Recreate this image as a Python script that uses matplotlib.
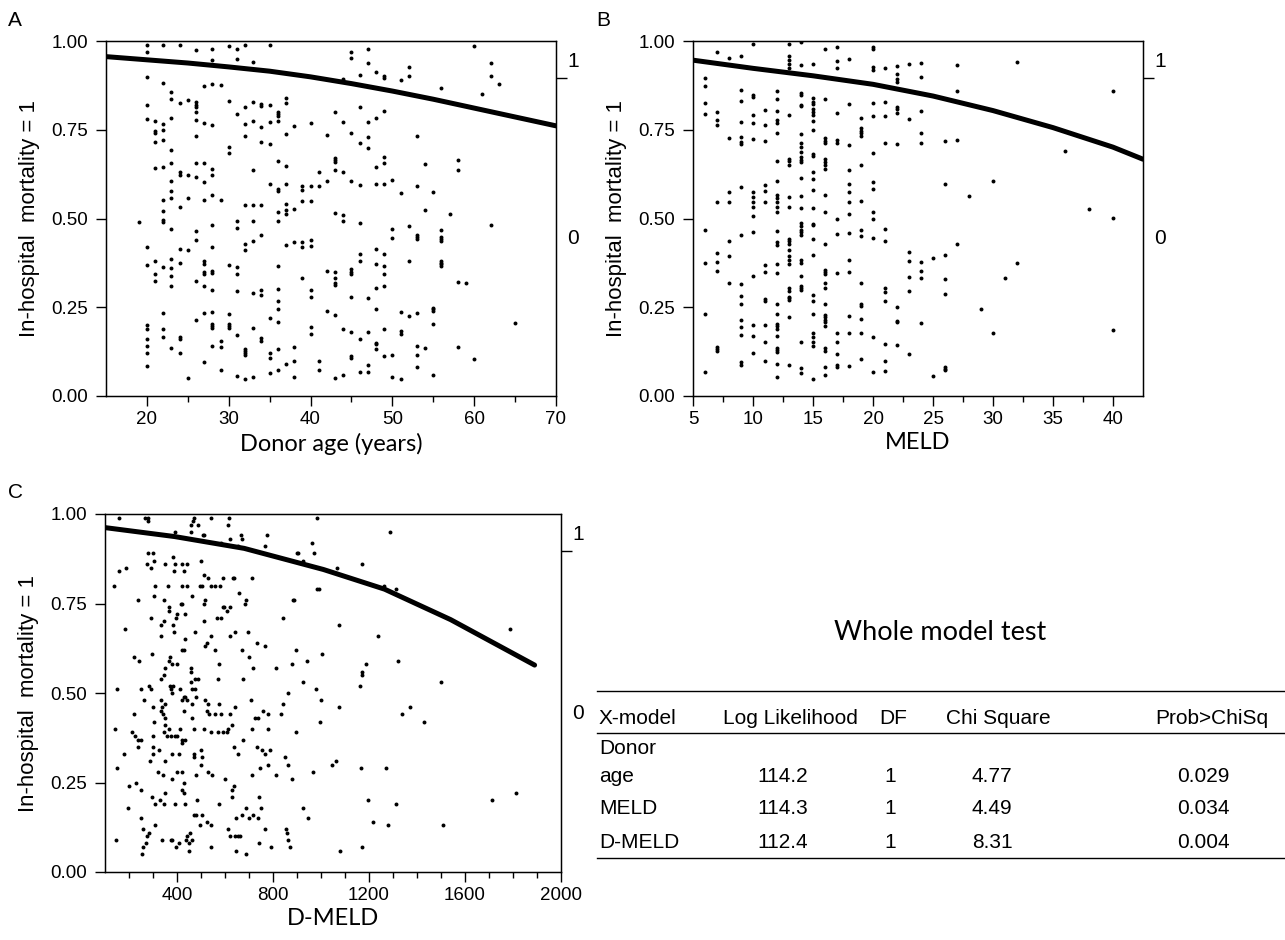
import numpy as np
import matplotlib.pyplot as plt
from matplotlib.lines import Line2D

plt.rcParams['font.family'] = ['Liberation Sans', 'DejaVu Sans']

# ---- Panel A: donor age (integer ages, jittered y positions)
age_levels = [19, 20, 21, 22, 23, 24, 25, 26, 27, 28, 29, 30, 31, 32, 33, 34, 35, 36, 37, 38, 39, 40,
              41, 42, 43, 44, 45, 46, 47, 48, 49, 50, 51, 52, 53, 54, 55, 56, 57, 58, 59, 60, 61, 62, 63, 65]
age_y = [
    [0.49],
    [0.99, 0.97, 0.90, 0.82, 0.78, 0.42, 0.37, 0.20, 0.19, 0.16, 0.14, 0.12, 0.085],
    [0.775, 0.747, 0.742, 0.715, 0.642, 0.381, 0.343, 0.324],
    [0.99, 0.883, 0.766, 0.748, 0.722, 0.645, 0.553, 0.521, 0.495, 0.491, 0.362, 0.235, 0.189, 0.165],
    [0.855, 0.837, 0.784, 0.692, 0.656, 0.605, 0.577, 0.557, 0.471, 0.386, 0.361, 0.337, 0.311, 0.136],
    [0.99, 0.825, 0.632, 0.623, 0.531, 0.415, 0.376, 0.167, 0.161, 0.122],
    [0.833, 0.622, 0.559, 0.411, 0.052],
    [0.974, 0.827, 0.820, 0.813, 0.800, 0.778, 0.733, 0.655, 0.616, 0.464, 0.439, 0.324, 0.214],
    [0.873, 0.770, 0.655, 0.604, 0.553, 0.381, 0.373, 0.349, 0.344, 0.311, 0.233, 0.096],
    [0.978, 0.947, 0.878, 0.763, 0.640, 0.623, 0.566, 0.483, 0.421, 0.352, 0.346, 0.300, 0.238,
     0.202, 0.197, 0.191, 0.141],
    [0.877, 0.553, 0.156, 0.139, 0.073],
    [0.987, 0.830, 0.701, 0.685, 0.369, 0.230, 0.204, 0.197, 0.192],
    [0.977, 0.949, 0.794, 0.492, 0.474, 0.364, 0.345, 0.296, 0.173, 0.056],
    [0.99, 0.814, 0.767, 0.731, 0.538, 0.428, 0.411, 0.133, 0.128, 0.122, 0.115, 0.049],
    [0.942, 0.829, 0.776, 0.636, 0.539, 0.492, 0.438, 0.291, 0.192, 0.053],
    [0.823, 0.817, 0.758, 0.715, 0.539, 0.453, 0.300, 0.284, 0.162, 0.156],
    [0.99, 0.819, 0.771, 0.709, 0.596, 0.219, 0.121, 0.108, 0.064],
    [0.800, 0.793, 0.788, 0.776, 0.663, 0.583, 0.577, 0.518, 0.492, 0.366, 0.301, 0.269, 0.246,
     0.208, 0.131, 0.073],
    [0.840, 0.826, 0.738, 0.648, 0.597, 0.540, 0.523, 0.512, 0.426, 0.089],
    [0.761, 0.528, 0.433, 0.139, 0.098, 0.054],
    [0.592, 0.581, 0.550, 0.433, 0.419, 0.332],
    [0.770, 0.592, 0.550, 0.439, 0.423, 0.299, 0.278, 0.193, 0.174],
    [0.630, 0.592, 0.100, 0.073],
    [0.735, 0.607, 0.352, 0.239],
    [0.800, 0.671, 0.666, 0.660, 0.638, 0.515, 0.350, 0.333, 0.317, 0.313, 0.229, 0.052],
    [0.893, 0.771, 0.632, 0.509, 0.493, 0.189, 0.058],
    [0.968, 0.953, 0.740, 0.607, 0.357, 0.350, 0.345, 0.279, 0.179, 0.113, 0.108],
    [0.904, 0.815, 0.713, 0.595, 0.488, 0.401, 0.381, 0.161, 0.069],
    [0.977, 0.939, 0.773, 0.729, 0.700, 0.275, 0.181, 0.087, 0.068],
    [0.913, 0.783, 0.644, 0.598, 0.413, 0.372, 0.303, 0.246, 0.150, 0.146, 0.131],
    [0.902, 0.895, 0.804, 0.673, 0.656, 0.596, 0.401, 0.365, 0.343, 0.311, 0.189, 0.112],
    [0.608, 0.471, 0.445, 0.115, 0.053],
    [0.890, 0.572, 0.236, 0.184, 0.175, 0.047],
    [0.928, 0.902, 0.479, 0.379, 0.226],
    [0.733, 0.592, 0.454, 0.448, 0.442, 0.235, 0.142, 0.115, 0.082],
    [0.654, 0.523, 0.134],
    [0.575, 0.249, 0.244, 0.239, 0.203, 0.058],
    [0.868, 0.469, 0.449, 0.442, 0.437, 0.381, 0.376, 0.371, 0.366],
    [0.512],
    [0.665, 0.638, 0.322, 0.137],
    [0.317],
    [0.987, 0.105],
    [0.850],
    [0.939, 0.902, 0.481],
    [0.880],
    [0.207],
]
age_curve_x = [15, 20, 25, 30, 35, 40, 45, 50, 55, 60, 65, 70]
age_curve_y = [0.956, 0.947, 0.938, 0.927, 0.915, 0.899, 0.880, 0.859, 0.836, 0.811, 0.786, 0.761]

# ---- Panel B: MELD
meld_levels = [6, 7, 8, 9, 10, 11, 12, 13, 14, 15, 16, 17, 18, 19, 20, 21, 22, 23, 24, 25, 26, 27,
               28, 29, 30, 31, 32, 36, 38, 40]
meld_y = [
    [0.895, 0.874, 0.824, 0.795, 0.469, 0.374, 0.230, 0.068],
    [0.968, 0.800, 0.778, 0.762, 0.547, 0.403, 0.378, 0.351, 0.138, 0.132, 0.128],
    [0.951, 0.726, 0.574, 0.546, 0.438, 0.395, 0.317],
    [0.959, 0.863, 0.830, 0.772, 0.730, 0.715, 0.710, 0.590, 0.453, 0.315, 0.281, 0.259, 0.213,
     0.195, 0.173, 0.095, 0.087],
    [0.991, 0.849, 0.841, 0.791, 0.769, 0.725, 0.574, 0.560, 0.546, 0.531, 0.506, 0.463, 0.339,
     0.201, 0.169, 0.120],
    [0.805, 0.763, 0.717, 0.593, 0.577, 0.547, 0.368, 0.350, 0.272, 0.268, 0.201, 0.153, 0.098],
    [0.858, 0.836, 0.803, 0.778, 0.768, 0.742, 0.662, 0.606, 0.566, 0.557, 0.547, 0.531, 0.518,
     0.466, 0.435, 0.426, 0.371, 0.347, 0.260, 0.232, 0.202, 0.197, 0.189, 0.169, 0.135, 0.130,
     0.125, 0.089, 0.054],
    [0.991, 0.959, 0.946, 0.935, 0.923, 0.792, 0.669, 0.662, 0.651, 0.560, 0.531, 0.442, 0.437,
     0.427, 0.411, 0.394, 0.383, 0.371, 0.303, 0.297, 0.280, 0.275, 0.270, 0.223, 0.086],
    [0.996, 0.931, 0.854, 0.848, 0.820, 0.816, 0.738, 0.713, 0.702, 0.686, 0.672, 0.666, 0.658,
     0.615, 0.563, 0.529, 0.488, 0.479, 0.469, 0.461, 0.454, 0.382, 0.375, 0.338, 0.310, 0.303,
     0.298, 0.152, 0.080, 0.064],
    [0.935, 0.839, 0.829, 0.822, 0.809, 0.799, 0.792, 0.775, 0.748, 0.682, 0.677, 0.632, 0.611,
     0.581, 0.529, 0.485, 0.482, 0.442, 0.396, 0.285, 0.269, 0.230, 0.178, 0.166, 0.152, 0.141, 0.047],
    [0.977, 0.838, 0.726, 0.719, 0.712, 0.667, 0.660, 0.651, 0.639, 0.566, 0.517, 0.428, 0.354,
     0.348, 0.344, 0.317, 0.303, 0.260, 0.227, 0.223, 0.213, 0.208, 0.198, 0.134, 0.128, 0.082, 0.060],
    [0.983, 0.944, 0.923, 0.797, 0.720, 0.712, 0.500, 0.456, 0.346, 0.177, 0.153, 0.117, 0.087, 0.082],
    [0.948, 0.822, 0.707, 0.638, 0.598, 0.576, 0.547, 0.512, 0.460, 0.383, 0.349, 0.226, 0.177, 0.085],
    [0.783, 0.755, 0.747, 0.740, 0.733, 0.651, 0.550, 0.469, 0.452, 0.317, 0.260, 0.254, 0.218,
     0.177, 0.105],
    [0.984, 0.977, 0.926, 0.919, 0.826, 0.790, 0.685, 0.602, 0.582, 0.518, 0.498, 0.444, 0.165, 0.069],
    [0.923, 0.829, 0.790, 0.714, 0.470, 0.437, 0.304, 0.292, 0.268, 0.147, 0.099, 0.070],
    [0.930, 0.906, 0.892, 0.885, 0.814, 0.808, 0.796, 0.711, 0.250, 0.212, 0.208, 0.144],
    [0.934, 0.781, 0.406, 0.381, 0.334, 0.296, 0.117],
    [0.939, 0.898, 0.803, 0.740, 0.714, 0.377, 0.351, 0.333, 0.206],
    [0.388, 0.055],
    [0.718, 0.598, 0.396, 0.330, 0.286, 0.083, 0.077, 0.073],
    [0.932, 0.860, 0.721, 0.427],
    [0.564],
    [0.244],
    [0.606, 0.177],
    [0.331],
    [0.942, 0.376],
    [0.690],
    [0.527],
    [0.859, 0.502, 0.186],
]
meld_curve_x = [5, 10, 15, 20, 25, 30, 35, 40, 42.5]
meld_curve_y = [0.946, 0.923, 0.902, 0.878, 0.845, 0.804, 0.756, 0.701, 0.667]

# ---- Panel C: D-MELD (continuous)
dmeld_x = [
    158, 268, 279, 279, 472, 465, 459, 486, 541, 617, 613, 983, 390, 459, 514, 510, 665, 672, 776, 583,
    621, 656, 765, 903, 900, 962, 971, 927,
    279, 300, 275, 293, 304, 352, 383, 390, 387, 420, 442, 428, 500, 159, 187, 137, 310, 362, 420, 441,
    497, 503, 514, 530, 541, 558, 579, 591, 632, 638, 711, 657, 686, 304, 345, 461, 238, 416, 420, 515,
    511, 683, 883, 889, 983,
    290, 333, 347, 366, 365, 384, 395, 401, 434, 511, 590, 594, 610, 621, 567, 583, 842, 183, 334, 388,
    434, 475, 523, 541, 518, 558, 621, 642, 696, 732, 767, 670, 700, 221, 243, 296, 420, 431, 897, 941,
    1003, 881,
    370, 365, 379, 401, 348, 344, 459, 459, 476, 487, 577, 569, 675, 715, 814, 927, 332, 151, 249, 283,
    290, 372, 383, 376, 379, 412, 442, 459, 463, 475, 479, 518, 529, 573, 707, 861, 842, 981, 999,
    261, 334, 339, 352, 332, 343, 350, 300, 303, 221, 419, 431, 435, 461, 428, 463, 525, 532, 558, 585,
    621, 642, 727, 737, 758, 780, 834, 141, 213, 224, 239, 299, 352, 347, 365, 359, 374, 390, 402, 420,
    421, 432, 412, 472, 514, 541, 572, 590, 607, 612, 628, 676, 714, 781, 897, 996,
    180, 236, 249, 299, 325, 286, 300, 350, 380, 408, 472, 500, 470, 503, 501, 636, 654, 732, 754, 765,
    789, 852, 861, 152, 322, 340, 379, 401, 420, 431, 479, 530, 544, 599, 638, 628, 712, 744, 778, 814,
    879, 966, 202, 231, 252, 296, 310, 330, 345, 351, 392, 420, 431, 432, 482, 628, 740, 573,
    197, 252, 259, 307, 283, 276, 272, 260, 256, 145, 337, 373, 381, 395, 409, 438, 443, 456, 461, 449,
    452, 472, 479, 504, 494, 527, 541, 541, 613, 620, 643, 654, 661, 645, 647, 670, 686, 701, 718, 737,
    748, 740, 765, 791, 686, 856, 858, 861, 872, 925, 945,
    1289, 1170, 1068, 1264, 1312, 990, 1075, 1236, 1787, 1319, 1189, 1170, 1170, 1163, 1501, 1076, 1370,
    1337, 1431, 1061, 1045, 1165, 1269, 1195, 1312, 1711, 1814, 1216, 1280, 1508, 1079, 1170,
]
dmeld_y = [
    0.99, 0.99, 0.99, 0.98, 0.99, 0.98, 0.97, 0.97, 0.99, 0.99, 0.97, 0.99, 0.95, 0.95, 0.94, 0.94, 0.94,
    0.93, 0.94, 0.92, 0.93, 0.91, 0.91, 0.89, 0.89, 0.92, 0.89, 0.87,
    0.89, 0.89, 0.86, 0.85, 0.87, 0.86, 0.88, 0.86, 0.84, 0.86, 0.86, 0.84, 0.87, 0.84, 0.85, 0.80, 0.80,
    0.80, 0.80, 0.80, 0.80, 0.80, 0.83, 0.82, 0.80, 0.80, 0.80, 0.82, 0.82, 0.82, 0.82, 0.78, 0.76, 0.77,
    0.76, 0.77, 0.76, 0.75, 0.75, 0.76, 0.75, 0.75, 0.76, 0.76, 0.79,
    0.71, 0.69, 0.70, 0.73, 0.74, 0.69, 0.71, 0.72, 0.72, 0.70, 0.74, 0.74, 0.73, 0.74, 0.71, 0.71, 0.71,
    0.68, 0.66, 0.67, 0.65, 0.67, 0.64, 0.66, 0.63, 0.62, 0.66, 0.67, 0.67, 0.64, 0.63, 0.62, 0.60, 0.60,
    0.59, 0.61, 0.62, 0.62, 0.62, 0.59, 0.61, 0.58,
    0.60, 0.59, 0.58, 0.58, 0.57, 0.55, 0.57, 0.56, 0.54, 0.54, 0.58, 0.54, 0.54, 0.57, 0.57, 0.53, 0.54,
    0.51, 0.51, 0.52, 0.51, 0.52, 0.52, 0.51, 0.50, 0.51, 0.48, 0.53, 0.51, 0.51, 0.49, 0.48, 0.47, 0.47,
    0.48, 0.50, 0.47, 0.51, 0.48,
    0.48, 0.48, 0.46, 0.47, 0.45, 0.44, 0.43, 0.46, 0.42, 0.44, 0.48, 0.49, 0.49, 0.47, 0.45, 0.43, 0.45,
    0.44, 0.44, 0.44, 0.44, 0.46, 0.43, 0.43, 0.45, 0.44, 0.44, 0.40, 0.39, 0.38, 0.37, 0.38, 0.41, 0.39,
    0.40, 0.38, 0.38, 0.38, 0.38, 0.36, 0.37, 0.37, 0.40, 0.40, 0.40, 0.39, 0.39, 0.39, 0.39, 0.40, 0.41,
    0.37, 0.40, 0.40, 0.39, 0.42,
    0.33, 0.35, 0.37, 0.35, 0.34, 0.31, 0.33, 0.31, 0.33, 0.33, 0.33, 0.34, 0.32, 0.32, 0.30, 0.35, 0.33,
    0.35, 0.34, 0.33, 0.34, 0.32, 0.30, 0.29, 0.28, 0.27, 0.26, 0.28, 0.28, 0.25, 0.27, 0.28, 0.27, 0.26,
    0.24, 0.23, 0.27, 0.29, 0.30, 0.27, 0.26, 0.28, 0.24, 0.25, 0.23, 0.21, 0.19, 0.20, 0.19, 0.22, 0.19,
    0.23, 0.22, 0.19, 0.20, 0.21, 0.21, 0.19,
    0.18, 0.15, 0.12, 0.13, 0.11, 0.10, 0.08, 0.07, 0.05, 0.09, 0.09, 0.09, 0.09, 0.07, 0.08, 0.09, 0.10,
    0.11, 0.09, 0.08, 0.06, 0.16, 0.16, 0.16, 0.13, 0.14, 0.13, 0.07, 0.12, 0.10, 0.10, 0.10, 0.10, 0.06,
    0.15, 0.16, 0.18, 0.15, 0.16, 0.15, 0.18, 0.08, 0.12, 0.07, 0.05, 0.12, 0.11, 0.09, 0.07, 0.18, 0.15,
    0.95, 0.86, 0.85, 0.80, 0.79, 0.79, 0.69, 0.66, 0.68, 0.59, 0.58, 0.56, 0.55, 0.52, 0.53, 0.46, 0.46,
    0.44, 0.42, 0.31, 0.30, 0.29, 0.29, 0.20, 0.19, 0.20, 0.22, 0.14, 0.13, 0.13, 0.06, 0.07,
]
dmeld_curve_x = [100, 390, 680, 1010, 1265, 1540, 1890]
dmeld_curve_y = [0.962, 0.937, 0.904, 0.845, 0.790, 0.705, 0.578]

# split point of the response levels shown on the right axis (overall proportion)
level_split = 0.896

# ---- table
table_cols = ['X-model', 'Log Likelihood', 'DF', 'Chi Square', 'Prob>ChiSq']
table_models = ['Donor\nage', 'MELD', 'D-MELD']
table_loglik = ['114.2', '114.3', '112.4']
table_df = ['1', '1', '1']
table_chisq = ['4.77', '4.49', '8.31']
table_p = ['0.029', '0.034', '0.004']

W, H = 1285, 940
fig = plt.figure(figsize=(W / 100, H / 100), dpi=100)


def rect(left, top, right, bottom):
    return [left / W, 1 - bottom / H, (right - left) / W, (bottom - top) / H]


def panel(r, xs, ys, cx, cy, xlim, major, minor, xlabel):
    ax = fig.add_axes(r)
    ax.scatter(xs, ys, s=8, color='black', linewidths=0, zorder=3)
    ax.plot(cx, cy, color='black', lw=3.6, solid_capstyle='round', zorder=4)
    ax.set_xlim(*xlim)
    ax.set_ylim(0, 1)
    ax.set_xticks(major)
    ax.set_xticks(minor, minor=True)
    ax.set_yticks([0, 0.25, 0.5, 0.75, 1.0])
    ax.set_yticklabels(['0.00', '0.25', '0.50', '0.75', '1.00'])
    ax.tick_params(which='major', direction='out', length=7, width=1, labelsize=13.5, pad=4)
    ax.tick_params(axis='y', which='major', pad=6)
    ax.tick_params(which='minor', direction='out', length=4, width=1)
    ax.set_xlabel(xlabel, family=['Lato', 'DejaVu Sans'], fontsize=17, labelpad=3)
    ax.set_ylabel('In-hospital  mortality = 1', fontsize=16, labelpad=8)
    for s in ax.spines.values():
        s.set_linewidth(1)
    # response levels on the right
    ax2 = ax.twinx()
    ax2.set_ylim(0, 1)
    ax2.set_yticks([level_split / 2, (1 + level_split) / 2])
    ax2.set_yticklabels(['0', '1'])
    ax2.set_yticks([level_split], minor=True)
    ax2.tick_params(which='major', length=0, labelsize=15, pad=8)
    ax2.tick_params(which='minor', length=8, width=1, direction='out')
    return ax


age_x = np.repeat(age_levels, [len(v) for v in age_y])
panel(rect(106, 41, 556, 396), age_x, np.concatenate(age_y), age_curve_x, age_curve_y,
      (15, 70), [20, 30, 40, 50, 60, 70], [25, 35, 45, 55, 65], 'Donor age (years)')

meld_x = np.repeat(meld_levels, [len(v) for v in meld_y])
panel(rect(693, 41, 1143, 396), meld_x, np.concatenate(meld_y), meld_curve_x, meld_curve_y,
      (5, 42.5), [5, 10, 15, 20, 25, 30, 35, 40], [7.5, 12.5, 17.5, 22.5, 27.5, 32.5, 37.5],
      'MELD')

panel(rect(105, 514, 561, 872), dmeld_x, dmeld_y, dmeld_curve_x, dmeld_curve_y,
      (100, 2000), [400, 800, 1200, 1600, 2000], list(range(200, 2000, 100)), 'D-MELD')

for letter, px, py in [('A', 8, 20), ('B', 596, 20), ('C', 8, 492)]:
    fig.text(px / W, 1 - py / H, letter, fontsize=15, va='center', ha='left')

# ---- Whole model test table
fig.text(940 / W, 1 - 633 / H, 'Whole model test', family=['Lato', 'DejaVu Sans'],
         fontsize=19.5, ha='center', va='center')

tfont = dict(fontsize=15, va='center')
for yline in (691, 733, 858):
    fig.add_artist(Line2D([597 / W, 1.0], [1 - yline / H] * 2, color='black', lw=1))

head_x = [599, 790, 893, 998, 1212]
fig.text(head_x[0] / W, 1 - 718 / H, table_cols[0], ha='left', **tfont)
for hx, lab in zip(head_x[1:], table_cols[1:]):
    fig.text(hx / W, 1 - 718 / H, lab, ha='center', **tfont)

val_x = [783, 890, 992, 1203]
row_y = [776, 809, 842]
fig.text(head_x[0] / W, 1 - 748 / H, 'Donor', ha='left', **tfont)
fig.text(head_x[0] / W, 1 - row_y[0] / H, 'age', ha='left', **tfont)
fig.text(head_x[0] / W, 1 - row_y[1] / H, table_models[1], ha='left', **tfont)
fig.text(head_x[0] / W, 1 - row_y[2] / H, table_models[2], ha='left', **tfont)
for i, ry in enumerate(row_y):
    for vx, vals in zip(val_x, [table_loglik, table_df, table_chisq, table_p]):
        fig.text(vx / W, 1 - ry / H, vals[i], ha='center', **tfont)

fig.savefig('out.png', dpi=100)
